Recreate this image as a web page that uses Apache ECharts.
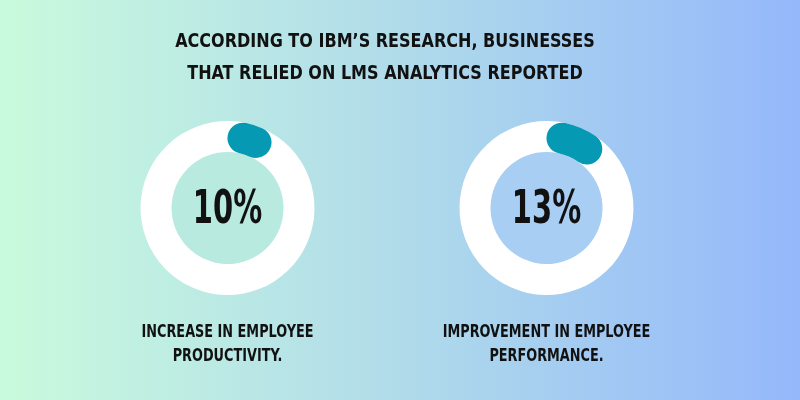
<!DOCTYPE html>
<html>
<head>
<meta charset="utf-8">
<script src="https://cdn.jsdelivr.net/npm/echarts@6/dist/echarts.min.js"></script>
<style>
html,body{margin:0;padding:0;width:800px;height:400px;overflow:hidden;}
#main{width:800px;height:400px;}
</style>
</head>
<body>
<div id="main"></div>
<script>
// ---- data ----
var titleLines = ["ACCORDING TO IBM\u2019S RESEARCH, BUSINESSES", "THAT RELIED ON LMS ANALYTICS REPORTED"];
var metricValues = [10, 13];
var metricLabels = [
  ["INCREASE IN EMPLOYEE", "PRODUCTIVITY."],
  ["IMPROVEMENT IN EMPLOYEE", "PERFORMANCE."]
];

// ---- styles / layout ----
var FONT = "'DejaVu Sans Condensed', 'Liberation Sans', sans-serif";
var centers = [[227.5, 208], [546.5, 208]];
var innerColors = ['#b9eae0', '#a8cef3'];
var teal = '#0599b4';
var outerR = 87, ringW = 31;
var capDeg = Math.asin((ringW / 2) / (outerR - ringW / 2)) * 180 / Math.PI;
var gaugeMin = 2 * capDeg / 3.6;

var chart = echarts.init(document.getElementById('main'));
var series = [];
var graphics = [];

titleLines.forEach(function (t, i) {
  graphics.push({
    type: 'text', x: 385, y: 42 + i * 32, scaleX: 0.89, silent: true,
    style: { text: t, fill: '#111', fontSize: 20, fontWeight: 'bold', fontFamily: FONT, align: 'center', verticalAlign: 'middle' }
  });
});

metricValues.forEach(function (v, i) {
  var c = centers[i];
  series.push({
    type: 'pie', silent: true, center: c, radius: [0, outerR - ringW],
    label: { show: false }, labelLine: { show: false },
    itemStyle: { color: innerColors[i] },
    data: [{ value: 1 }], z: 1
  });
  series.push({
    type: 'gauge', center: c, radius: outerR,
    startAngle: 90 - capDeg, endAngle: 90 - capDeg - 360,
    min: gaugeMin, max: 100 + gaugeMin, z: 2,
    axisLine: { lineStyle: { width: ringW, color: [[1, '#ffffff']] } },
    progress: { show: true, width: ringW, roundCap: true, itemStyle: { color: teal } },
    pointer: { show: false }, anchor: { show: false },
    axisTick: { show: false }, splitLine: { show: false }, axisLabel: { show: false },
    title: { show: false }, detail: { show: false },
    data: [{ value: v }]
  });
  graphics.push({
    type: 'text', x: c[0], y: c[1] + 3, scaleX: 0.7, silent: true, z: 10,
    style: { text: v + '%', fill: '#111', fontSize: 46, fontWeight: 'bold', fontFamily: FONT, align: 'center', verticalAlign: 'middle' }
  });
  metricLabels[i].forEach(function (t, j) {
    graphics.push({
      type: 'text', x: c[0], y: 333 + j * 24, scaleX: 0.84, silent: true,
      style: { text: t, fill: '#111', fontSize: 17, fontWeight: 'bold', fontFamily: FONT, align: 'center', verticalAlign: 'middle' }
    });
  });
});

chart.setOption({
  animation: false,
  backgroundColor: new echarts.graphic.LinearGradient(0, 0, 1, 0, [
    { offset: 0, color: '#c9fbdd' },
    { offset: 0.5, color: '#b0dbea' },
    { offset: 1, color: '#94b8fb' }
  ]),
  graphic: graphics,
  series: series
});
</script>
</body>
</html>
